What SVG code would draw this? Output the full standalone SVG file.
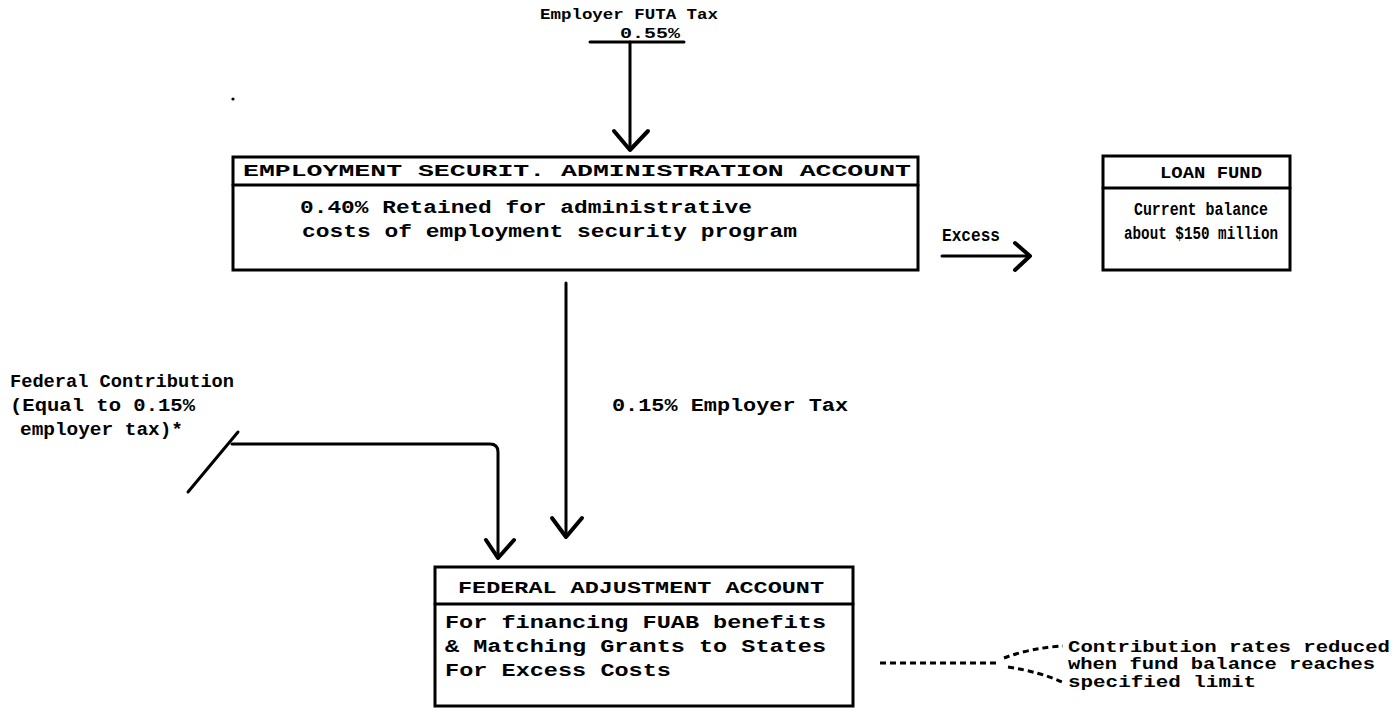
<svg xmlns="http://www.w3.org/2000/svg" width="1392" height="710" viewBox="0 0 1392 710">
<style>
text{font-family:"Liberation Mono","DejaVu Sans Mono",monospace;font-weight:bold;fill:#000;}
.t{font-size:18px;}
.h{font-size:17px;}
.s{font-size:15px;}
.box{fill:none;stroke:#000;stroke-width:3;}
.ln{fill:none;stroke:#000;stroke-width:3;stroke-linecap:round;stroke-linejoin:round;}
.ah{fill:none;stroke:#000;stroke-width:4;stroke-linecap:round;stroke-linejoin:round;}
.dash{fill:none;stroke:#000;stroke-width:3;stroke-dasharray:6 4;}
</style>
<rect width="1392" height="710" fill="#fff"/>

<g id="futa">
<text class="s" x="540" y="19" textLength="178" lengthAdjust="spacingAndGlyphs">Employer FUTA Tax</text>
<text class="s" x="620" y="38" textLength="60" lengthAdjust="spacingAndGlyphs">0.55%</text>
<line class="ln" x1="590" y1="42" x2="684" y2="42"/>
</g>

<g id="esa">
<rect class="box" x="233" y="157" width="685" height="113"/>
<line class="ln" x1="233" y1="185" x2="918" y2="185"/>
<text class="h" x="243" y="176" textLength="668" lengthAdjust="spacingAndGlyphs">EMPLOYMENT SECURIT. ADMINISTRATION ACCOUNT</text>
<text class="t" x="300" y="213" textLength="452" lengthAdjust="spacingAndGlyphs">0.40% Retained for administrative</text>
<text class="t" x="302" y="237" textLength="495" lengthAdjust="spacingAndGlyphs">costs of employment security program</text>
</g>

<g id="loan">
<rect class="box" x="1103" y="156" width="187" height="114"/>
<line class="ln" x1="1103" y1="188" x2="1290" y2="188"/>
<text class="h" x="1160" y="178" textLength="102" lengthAdjust="spacingAndGlyphs">LOAN  FUND</text>
<text class="t" x="1134" y="215" textLength="134" lengthAdjust="spacingAndGlyphs">Current balance</text>
<text class="t" x="1124" y="239" textLength="154" lengthAdjust="spacingAndGlyphs">about $150 million</text>
</g>

<g id="faa">
<rect class="box" x="435" y="567" width="418" height="139"/>
<line class="ln" x1="435" y1="604" x2="853" y2="604"/>
<text class="h" x="458" y="593" textLength="366" lengthAdjust="spacingAndGlyphs">FEDERAL ADJUSTMENT ACCOUNT</text>
<text class="t" x="445" y="628" textLength="381" lengthAdjust="spacingAndGlyphs">For financing FUAB benefits</text>
<text class="t" x="445" y="652" textLength="381" lengthAdjust="spacingAndGlyphs">&amp; Matching Grants to States</text>
<text class="t" x="445" y="676" textLength="226" lengthAdjust="spacingAndGlyphs">For Excess Costs</text>
</g>

<g id="federal-contribution">
<text class="t" x="10" y="387" textLength="224" lengthAdjust="spacingAndGlyphs">Federal Contribution</text>
<text class="t" x="10" y="411" textLength="185" lengthAdjust="spacingAndGlyphs">(Equal to 0.15%</text>
<text class="t" x="20" y="435" textLength="163" lengthAdjust="spacingAndGlyphs">employer tax)*</text>
</g>

<g id="note">
<text class="h" x="1068" y="652" textLength="322" lengthAdjust="spacingAndGlyphs">Contribution rates reduced</text>
<text class="h" x="1068" y="669" textLength="307" lengthAdjust="spacingAndGlyphs">when fund balance reaches</text>
<text class="h" x="1068" y="687" textLength="188" lengthAdjust="spacingAndGlyphs">specified limit</text>
</g>

<g id="connectors">
<line class="ln" x1="630" y1="42" x2="630" y2="148"/>
<polyline class="ah" points="614,131 630,150 648,131"/>

<line class="ln" x1="942" y1="256" x2="1028" y2="256"/>
<polyline class="ah" points="1015,243 1030,256 1015,270"/>
<text class="t" x="942" y="241" textLength="58" lengthAdjust="spacingAndGlyphs">Excess</text>

<line class="ln" x1="566" y1="283" x2="566" y2="535"/>
<polyline class="ah" points="552,518 566,537 582,518"/>
<text class="t" x="612" y="411" textLength="236" lengthAdjust="spacingAndGlyphs">0.15% Employer Tax</text>

<line class="ln" x1="188" y1="492" x2="238" y2="432"/>
<path class="ln" d="M232,444 L490,444 Q498,444 498,452 L498,555"/>
<polyline class="ah" points="486,540 498,558 514,540"/>

<line class="dash" x1="880" y1="663" x2="1000" y2="663"/>
<path class="dash" d="M1004,658 Q1030,648 1063,646"/>
<path class="dash" d="M1008,667 Q1040,672 1062,682"/>

<circle cx="233" cy="99" r="1.6" fill="#000"/>
<circle cx="832" cy="408" r="1.6" fill="#000"/>
</g>
</svg>
